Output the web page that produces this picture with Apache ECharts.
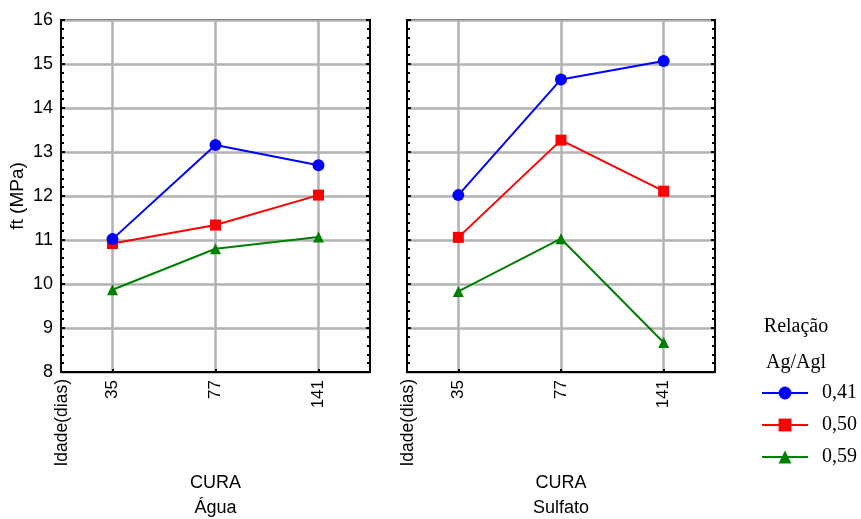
<!DOCTYPE html>
<html>
<head>
<meta charset="utf-8">
<script src="https://cdn.jsdelivr.net/npm/echarts@6/dist/echarts.min.js"></script>
<style>
  html, body { margin: 0; padding: 0; background: #fff; }
  #chart { width: 861px; height: 519px; }
</style>
</head>
<body>
<div id="chart"></div>
<script>
// Tensile strength ft (MPa) by age, for each curing medium and aggregate/binder ratio
const ages = ['35', '77', '141'];
const ratios = ['0,41', '0,50', '0,59'];

const aguaR041 = [11.02, 13.16, 12.70];
const aguaR050 = [10.92, 11.34, 12.02];
const aguaR059 = [9.87, 10.80, 11.07];

const sulfatoR041 = [12.02, 14.65, 15.07];
const sulfatoR050 = [11.06, 13.27, 12.11];
const sulfatoR059 = [9.83, 11.03, 8.67];

const yTicks = { min: 8, max: 16, interval: 1 };

const SANS = 'Liberation Sans, Arial, sans-serif';
const SERIF = 'Liberation Serif, Times New Roman, serif';
const colors = ['#0000ff', '#ff0000', '#008000'];
const symbols = ['circle', 'rect', 'triangle'];
const symbolSizes = [12, 11, 11];

const panels = [
  { left: 61, right: 491, label: 'Água', data: [aguaR041, aguaR050, aguaR059] },
  { left: 407, right: 146, label: 'Sulfato', data: [sulfatoR041, sulfatoR050, sulfatoR059] }
];
const gridTop = 20, gridBottom = 147, chartW = 861;

const grid = panels.map(p => ({
  left: p.left, right: p.right, top: gridTop, bottom: gridBottom,
  show: true, borderColor: '#000', borderWidth: 2, backgroundColor: 'transparent'
}));

const xAxis = panels.map((p, i) => ({
  type: 'category', gridIndex: i, data: ages, boundaryGap: true,
  axisLine: { show: true, lineStyle: { color: '#000', width: 2 } },
  axisTick: { show: true, inside: true, alignWithLabel: true, length: 3, lineStyle: { color: '#000', width: 2 } },
  axisLabel: { rotate: 90, margin: 8, color: '#000', fontFamily: SANS, fontSize: 17 },
  splitLine: { show: true, alignWithLabel: true, lineStyle: { color: '#b2b2b2', width: 2.5 } }
}));

const yAxis = [];
panels.forEach((p, i) => {
  // left axis carries the horizontal gridlines
  yAxis.push({
    type: 'value', gridIndex: i, position: 'left',
    min: yTicks.min, max: yTicks.max, interval: yTicks.interval,
    name: i === 0 ? 'ft (MPa)' : '', nameLocation: 'middle', nameRotate: 90, nameGap: 34,
    nameTextStyle: { color: '#000', fontFamily: SANS, fontSize: 19 },
    axisLine: { show: true, lineStyle: { color: '#000', width: 2 } },
    axisTick: { show: true, inside: true, length: 4, lineStyle: { color: '#000', width: 2 } },
    minorTick: { show: true, splitNumber: 5, length: 3, lineStyle: { color: '#000', width: 2 } },
    axisLabel: { show: i === 0, color: '#000', fontFamily: SANS, fontSize: 18, margin: 8 },
    splitLine: { show: true, lineStyle: { color: '#b2b2b2', width: 2.5 } }
  });
  // right axis mirrors the ticks on the opposite border
  yAxis.push({
    type: 'value', gridIndex: i, position: 'right',
    min: yTicks.min, max: yTicks.max, interval: yTicks.interval,
    axisLine: { show: true, lineStyle: { color: '#000', width: 2 } },
    axisTick: { show: true, inside: true, length: 4, lineStyle: { color: '#000', width: 2 } },
    minorTick: { show: true, splitNumber: 5, length: 3, lineStyle: { color: '#000', width: 2 } },
    axisLabel: { show: false },
    splitLine: { show: false }
  });
});

const series = [];
panels.forEach((p, i) => {
  p.data.forEach((vals, k) => {
    series.push({
      name: ratios[k], type: 'line', xAxisIndex: i, yAxisIndex: i * 2,
      data: vals, symbol: symbols[k], symbolSize: symbolSizes[k],
      itemStyle: { color: colors[k] },
      lineStyle: { color: colors[k], width: 2 },
      z: 10 - k
    });
  });
});

const graphic = [];
panels.forEach((p, i) => {
  const plotRight = chartW - p.right;
  const cx = (p.left + plotRight) / 2;
  graphic.push({
    type: 'text', x: p.left + 1, y: 379, rotation: Math.PI / 2,
    style: { text: 'Idade(dias)', fill: '#000', font: '17.5px ' + SANS, textAlign: 'right', textVerticalAlign: 'middle' }
  });
  graphic.push({
    type: 'text', x: cx, y: 483,
    style: { text: 'CURA', fill: '#000', font: '18px ' + SANS, textAlign: 'center', textVerticalAlign: 'middle' }
  });
  graphic.push({
    type: 'text', x: cx, y: 508,
    style: { text: p.label, fill: '#000', font: '18px ' + SANS, textAlign: 'center', textVerticalAlign: 'middle' }
  });
});
graphic.push({
  type: 'text', x: 796, y: 327,
  style: { text: 'Relação', fill: '#000', font: '20px ' + SERIF, textAlign: 'center', textVerticalAlign: 'middle' }
});
graphic.push({
  type: 'text', x: 796, y: 363,
  style: { text: 'Ag/Agl', fill: '#000', font: '20px ' + SERIF, textAlign: 'center', textVerticalAlign: 'middle' }
});

const option = {
  animation: false,
  backgroundColor: '#fff',
  grid, xAxis, yAxis, series, graphic,
  legend: {
    data: ratios, orient: 'vertical', left: 756, top: 378,
    itemWidth: 46, itemHeight: 16, itemGap: 12,
    textStyle: { color: '#000', fontFamily: SERIF, fontSize: 20, padding: [0, 0, 0, 9] }
  }
};

const chart = echarts.init(document.getElementById('chart'), null, { renderer: 'canvas' });
chart.setOption(option);
</script>
</body>
</html>
